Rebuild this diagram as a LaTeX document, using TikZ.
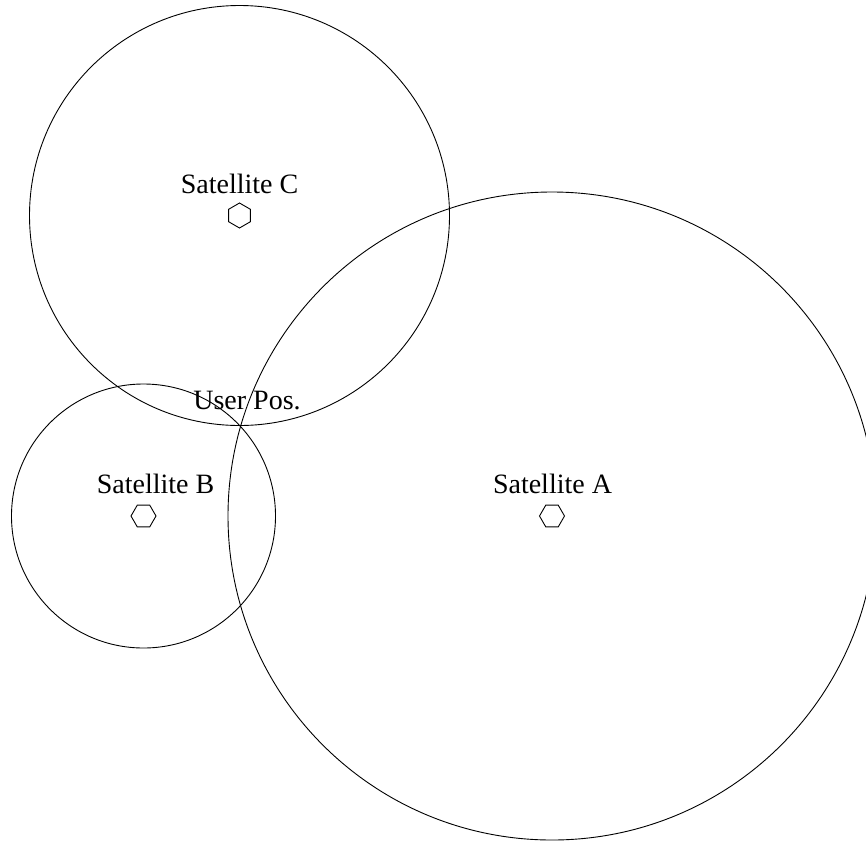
\documentclass[tikz,border=0pt]{standalone}
\usepackage{fontspec}
\setmainfont{Liberation Serif}
\usetikzlibrary{shapes.geometric}
\begin{document}
\begin{tikzpicture}[x=1pt,y=-1pt,
  rangecircle/.style={draw=black,line width=0.9pt},
  sat/.style={regular polygon,regular polygon sides=6,draw=black,line width=0.9pt,
    inner sep=0pt,minimum size=25pt},
  satlabel/.style={anchor=base,inner sep=0pt,font=\fontsize{28}{32}\selectfont}]
  \useasboundingbox (0,0) rectangle (866,841);
  \clip (0,0) rectangle (866,841);
  % satellite positions
  \node[sat] (A) at (552,516) {};
  \node[sat] (B) at (143.5,516) {};
  \node[sat,shape border rotate=30] (C) at (239.5,215.5) {};
  % range circles
  \draw[rangecircle] (A.center) circle[radius=324];
  \draw[rangecircle] (B.center) circle[radius=132];
  \draw[rangecircle] (C.center) circle[radius=210];
  % labels
  \node[satlabel] (la) at (552.5,493) {Satellite A};
  \node[satlabel] (lb) at (155.5,493) {Satellite B};
  \node[satlabel] (lc) at (239.5,193) {Satellite C};
  \node[satlabel] (lu) at (247,409) {User Pos.};
\end{tikzpicture}
\end{document}
